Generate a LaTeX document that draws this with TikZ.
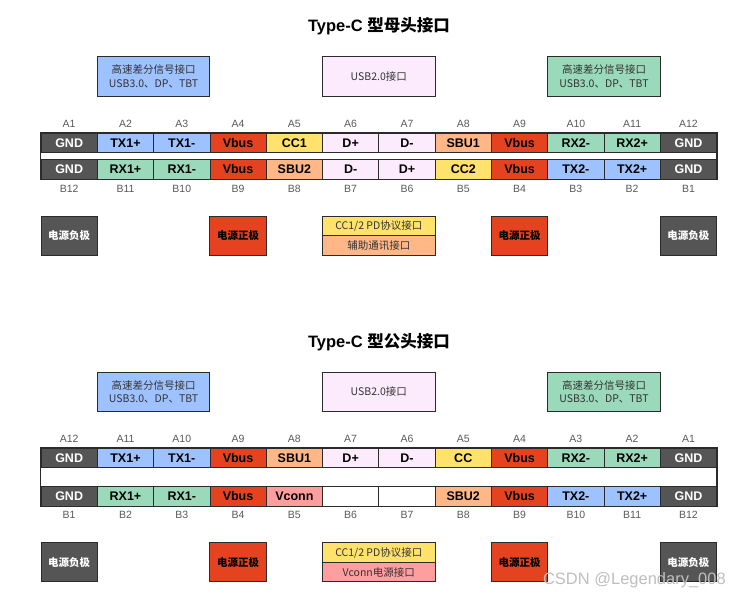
\documentclass[tikz,border=0pt]{standalone}
\usepackage{fontspec}
\setmainfont{Liberation Sans}
\newfontfamily\cjk{Noto Sans CJK SC}
\definecolor{cgnd}{HTML}{555555}
\definecolor{ctx}{HTML}{9EC2FF}
\definecolor{crx}{HTML}{9AD9B9}
\definecolor{cvbus}{HTML}{E5421F}
\definecolor{ccc}{HTML}{FFE26B}
\definecolor{csbu}{HTML}{FFB787}
\definecolor{cusb}{HTML}{FCEBFC}
\definecolor{cvconn}{HTML}{FF9E9E}
\definecolor{cpin}{HTML}{5A5A5A}
\definecolor{cedge}{HTML}{2B2B2B}
\definecolor{ctext}{HTML}{333333}
\begin{document}
\begin{tikzpicture}[x=1pt,y=-1pt,
  cell/.style={draw=cedge,line width=0.8pt,minimum width=56.3pt,minimum height=19.5pt,inner sep=0pt,font=\fontsize{12.5}{14}\selectfont\bfseries},
  pinno/.style={text=cpin,font=\fontsize{10.5}{12}\selectfont,inner sep=0pt},
  gapbox/.style={draw=cedge,line width=0.8pt,fill=white,minimum width=676.6pt,inner sep=0pt},
  frame/.style={draw=cedge,line width=1.6pt},
  legend/.style={draw=cedge,line width=1pt,minimum width=112.6pt,minimum height=39.3pt,inner sep=0pt,align=center,text=ctext,font=\cjk\fontsize{10.5}{13.5}\selectfont},
  halfbox/.style={draw=cedge,line width=1pt,minimum width=112.6pt,inner sep=0pt,text=ctext,font=\cjk\fontsize{10.5}{12}\selectfont},
  powbox/.style={draw=cedge,line width=1pt,minimum width=56.3pt,minimum height=39pt,inner sep=0pt,font=\cjk\fontsize{10.5}{12}\selectfont\bfseries},
  title/.style={inner sep=0pt,font=\fontsize{16.5}{19}\selectfont\bfseries}
]
\useasboundingbox (0,0) rectangle (741,600);
\fill[white] (0,0) rectangle (741,600);

% ================= Female (top) =================
\node[title] (t1) at (379,26) {Type-C {\cjk\bfseries 型母头接口}};

\node[legend,fill=ctx]  (tl1) at (153.6,76.35) {高速差分信号接口\\USB3.0、DP、TBT};
\node[legend,fill=cusb] (tl2) at (378.8,76.35) {USB2.0接口};
\node[legend,fill=crx]  (tl3) at (604.0,76.35) {高速差分信号接口\\USB3.0、DP、TBT};

\node[gapbox,minimum height=6.8pt] (tgap) at (378.8,156.2) {};

\foreach \i/\t/\f/\tc in {1/GND/cgnd/white,2/TX1+/ctx/black,3/TX1-/ctx/black,4/Vbus/cvbus/black,
  5/CC1/ccc/black,6/D+/cusb/black,7/D-/cusb/black,8/SBU1/csbu/black,9/Vbus/cvbus/black,
  10/RX2-/crx/black,11/RX2+/crx/black,12/GND/cgnd/white}{
  \node[cell,fill=\f,text=\tc] (ta\i) at ({41+(\i-0.5)*56.3},143.05) {\t};
  \node[pinno] (pa\i) at ({41+(\i-0.5)*56.3},124) {A\i};
}
\foreach \i/\t/\f/\tc in {1/GND/cgnd/white,2/RX1+/crx/black,3/RX1-/crx/black,4/Vbus/cvbus/black,
  5/SBU2/csbu/black,6/D-/cusb/black,7/D+/cusb/black,8/CC2/ccc/black,9/Vbus/cvbus/black,
  10/TX2-/ctx/black,11/TX2+/ctx/black,12/GND/cgnd/white}{
  \pgfmathtruncatemacro{\j}{13-\i}
  \node[cell,fill=\f,text=\tc] (tb\i) at ({41+(\i-0.5)*56.3},169.35) {\t};
  \node[pinno] (pb\i) at ({41+(\i-0.5)*56.3},189) {B\j};
}
\draw[frame] (ta1.north west) rectangle (tb12.south east);

\node[powbox,fill=cgnd,text=white]  (tp1) at (69.15,235.5) {电源负极};
\node[powbox,fill=cvbus,text=black] (tp2) at (238.05,235.5) {电源正极};
\node[halfbox,fill=ccc,minimum height=19.7pt] (tp3) at (378.8,225.85) {CC1/2 PD协议接口};
\node[halfbox,fill=csbu,minimum height=19.3pt] (tp4) at (378.8,245.35) {辅助通讯接口};
\node[powbox,fill=cvbus,text=black] (tp5) at (519.55,235.5) {电源正极};
\node[powbox,fill=cgnd,text=white]  (tp6) at (688.45,235.5) {电源负极};

% ================= Male (bottom) =================
\node[title] (t2) at (379,342) {Type-C {\cjk\bfseries 型公头接口}};

\node[legend,fill=ctx]  (bl1) at (153.6,391.65) {高速差分信号接口\\USB3.0、DP、TBT};
\node[legend,fill=cusb] (bl2) at (378.8,391.65) {USB2.0接口};
\node[legend,fill=crx]  (bl3) at (604.0,391.65) {高速差分信号接口\\USB3.0、DP、TBT};

\node[gapbox,minimum height=18.7pt] (bgap) at (378.8,477.05) {};

\foreach \i/\t/\f/\tc in {1/GND/cgnd/white,2/TX1+/ctx/black,3/TX1-/ctx/black,4/Vbus/cvbus/black,
  5/SBU1/csbu/black,6/D+/cusb/black,7/D-/cusb/black,8/CC/ccc/black,9/Vbus/cvbus/black,
  10/RX2-/crx/black,11/RX2+/crx/black,12/GND/cgnd/white}{
  \pgfmathtruncatemacro{\j}{13-\i}
  \node[cell,fill=\f,text=\tc] (ba\i) at ({41+(\i-0.5)*56.3},457.95) {\t};
  \node[pinno] (qa\i) at ({41+(\i-0.5)*56.3},439.3) {A\j};
}
\foreach \i/\t/\f/\tc in {1/GND/cgnd/white,2/RX1+/crx/black,3/RX1-/crx/black,4/Vbus/cvbus/black,
  5/Vconn/cvconn/black,6//white/black,7//white/black,8/SBU2/csbu/black,9/Vbus/cvbus/black,
  10/TX2-/ctx/black,11/TX2+/ctx/black,12/GND/cgnd/white}{
  \node[cell,fill=\f,text=\tc] (bb\i) at ({41+(\i-0.5)*56.3},496.15) {\t};
  \node[pinno] (qb\i) at ({41+(\i-0.5)*56.3},515.3) {B\i};
}
\draw[frame] (ba1.north west) rectangle (bb12.south east);

\node[powbox,fill=cgnd,text=white]  (bp1) at (69.15,562.2) {电源负极};
\node[powbox,fill=cvbus,text=black] (bp2) at (238.05,562.2) {电源正极};
\node[halfbox,fill=ccc,minimum height=20pt] (bp3) at (378.8,552.7) {CC1/2 PD协议接口};
\node[halfbox,fill=cvconn,minimum height=19pt] (bp4) at (378.8,572.2) {Vconn电源接口};
\node[powbox,fill=cvbus,text=black] (bp5) at (519.55,562.2) {电源正极};
\node[powbox,fill=cgnd,text=white]  (bp6) at (688.45,562.2) {电源负极};

% watermark
\node[inner sep=0pt,text=gray!50,font=\fontsize{16.5}{20}\selectfont,anchor=east] (wm) at (726,580) {CSDN @Legendary\_008};
\end{tikzpicture}
\end{document}
